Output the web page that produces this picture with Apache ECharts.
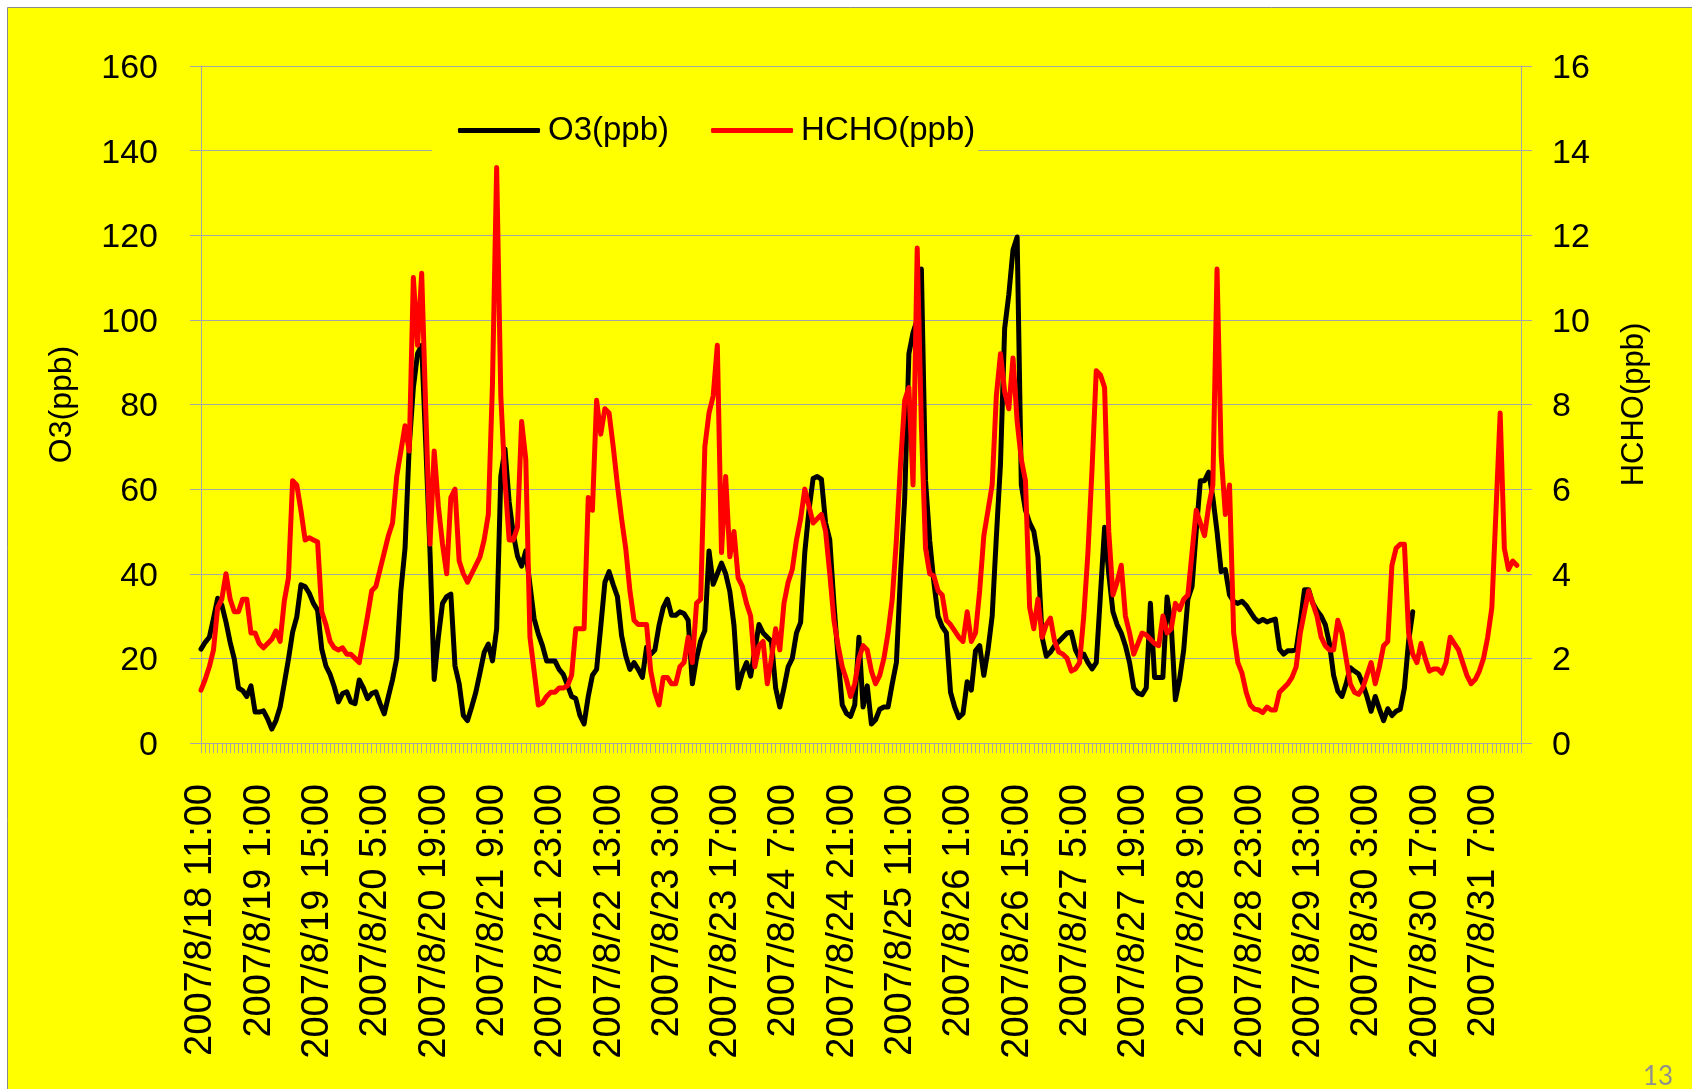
<!DOCTYPE html>
<html>
<head>
<meta charset="utf-8">
<script src="https://cdn.jsdelivr.net/npm/echarts@6/dist/echarts.min.js"></script>
<style>
  html, body { margin: 0; padding: 0; background: #ffffff; }
  #chart { width: 1692px; height: 1089px; }
</style>
</head>
<body>
<div id="chart"></div>
<script>
// Hourly series, starting 2007/8/18 11:00
const startHour = { y: 2007, m: 8, d: 18, h: 11 };
const hourCount = 318;

// O3 (ppb), left axis
const o3 = [
  22.2, 23.8, 25, 29.4, 34.2, 32.6, 28.6, 23.8, 19.8, 13,
  12.4, 11, 13.5, 7.3, 7.3, 7.6, 5.7, 3.3, 5.3, 8.5,
  14.1, 19.8, 26.2, 29.8, 37.4, 37, 35.4, 33, 31.4, 22.2,
  18.2, 16.2, 13.3, 9.7, 11.7, 12.1, 9.7, 9.3, 14.9, 13,
  10.5, 11.7, 12.1, 9.3, 6.9, 11, 15, 20, 36, 46,
  70, 84, 92, 94, 70, 45, 15, 25, 33, 34.6,
  35.2, 18.2, 14, 6.5, 5.3, 8.5, 12, 16.6, 21.4, 23.4,
  19.4, 27, 63, 69.5, 57, 49.4, 44.2, 41.8, 45.4, 37.4,
  29.4, 25.8, 23, 19.4, 19.4, 19.4, 17.4, 16.2, 13.7, 11,
  10.5, 6.5, 4.5, 11, 16, 17.4, 27.5, 38, 40.5, 37.4,
  34.6, 25.4, 20.6, 17.4, 19, 17.4, 15.5, 22.6, 21, 22,
  27.8, 32, 34, 30.2, 30.2, 31, 30.6, 29, 14, 20,
  24.2, 26.6, 45.4, 37.5, 40, 42.5, 40, 35.8, 27.8, 13,
  16.6, 19, 15.8, 22, 28, 26, 25, 24, 13, 8.5,
  13, 18, 20, 26, 28.5, 45, 55, 62.5, 63, 62.3,
  52, 48, 33, 20, 9, 7, 6.3, 9, 25, 8.5,
  13.5, 4.5, 5.5, 8, 8.5, 8.5, 14, 19, 40, 58,
  92, 97, 100, 112, 62, 47.8, 38, 30, 27.5, 26,
  12, 8.5, 6, 7, 14.5, 12.5, 21.8, 23, 16, 22,
  30, 48.6, 66, 98, 106, 116.5, 119.6, 61, 55, 52,
  50, 44, 25, 20.5, 21.5, 23, 24, 25, 26, 26.2,
  22, 20, 21, 19, 17.5, 19, 35, 51, 40, 31,
  28, 26, 23, 19, 13, 11.8, 11.4, 13, 33, 15.5,
  15.5, 15.5, 34.5, 28, 10.2, 15, 22, 34, 37, 50,
  62, 62, 64, 58, 50, 40.5, 41, 35, 33.4, 33,
  33.5, 32.5, 31, 29.5, 28.6, 29.2, 28.6, 29, 29.3, 22.2,
  21, 21.8, 21.8, 22, 28.6, 36.2, 36.2, 33, 31.3, 30,
  28, 23.5, 16, 12.3, 11, 14, 17.8, 17, 16.3, 14,
  11, 7.5, 11, 8, 5.3, 8.1, 6.5, 7.5, 8, 13,
  24, 31, null, null, null, null, null, null, null, null,
  null, null, null, null, null, null, null, null, null, null,
  null, null, null, null, null, null, null, null
];

// HCHO (ppb), right axis
const hcho = [
  1.25, 1.5, 1.8, 2.2, 3.2, 3.4, 4.0, 3.4, 3.1, 3.1,
  3.4, 3.4, 2.6, 2.6, 2.35, 2.25, 2.35, 2.45, 2.65, 2.4,
  3.35, 3.9, 6.2, 6.1, 5.5, 4.8, 4.85, 4.8, 4.75, 3.1,
  2.8, 2.4, 2.25, 2.2, 2.25, 2.1, 2.1, 2.0, 1.9, 2.45,
  3.0, 3.6, 3.7, 4.1, 4.5, 4.9, 5.2, 6.3, 6.9, 7.5,
  6.9, 11.0, 9.4, 11.1, 7.8, 4.7, 6.9, 5.6, 4.7, 4.0,
  5.8, 6.0, 4.3, 4.0, 3.8, 4.0, 4.2, 4.4, 4.8, 5.4,
  8.5, 13.6, 8.2, 6.2, 4.8, 4.8, 5.1, 7.6, 6.7, 2.5,
  1.7, 0.9, 0.95, 1.1, 1.2, 1.2, 1.3, 1.3, 1.35, 1.6,
  2.7, 2.7, 2.7, 5.8, 5.5, 8.1, 7.3, 7.9, 7.8, 7.0,
  6.1, 5.3, 4.6, 3.6, 2.9, 2.8, 2.8, 2.8, 1.7, 1.2,
  0.9, 1.55, 1.55, 1.4, 1.4, 1.8, 1.9, 2.5, 1.9, 3.3,
  3.4, 7.0, 7.8, 8.2, 9.4, 4.5, 6.3, 4.4, 5.0, 3.9,
  3.7, 3.3, 3.0, 1.8, 2.3, 2.4, 1.4, 2.0, 2.7, 2.2,
  3.3, 3.8, 4.1, 4.8, 5.3, 6.0, 5.6, 5.2, 5.3, 5.4,
  5.0, 4.0, 2.9, 2.3, 1.8, 1.5, 1.1, 1.4, 2.0, 2.3,
  2.2, 1.7, 1.4, 1.6, 2.0, 2.6, 3.4, 4.8, 6.6, 8.1,
  8.4, 6.1, 11.7, 7.5, 4.6, 4.0, 3.95, 3.6, 3.5, 2.9,
  2.8, 2.65, 2.5, 2.4, 3.1, 2.4, 2.6, 3.6, 4.9, 5.5,
  6.1, 8.2, 9.2, 8.3, 7.9, 9.1, 7.6, 6.7, 6.2, 3.2,
  2.7, 3.4, 2.5, 2.8, 2.95, 2.4, 2.15, 2.1, 2.0, 1.7,
  1.75, 1.9, 3.0, 4.5, 6.5, 8.8, 8.7, 8.4, 5.0, 3.5,
  3.8, 4.2, 3.0, 2.6, 2.1, 2.35, 2.6, 2.55, 2.45, 2.35,
  2.3, 3.0, 2.6, 2.7, 3.3, 3.15, 3.4, 3.5, 4.5, 5.5,
  5.2, 4.9, 5.6, 6.1, 11.2, 6.8, 5.4, 6.1, 2.6, 1.9,
  1.65, 1.2, 0.9, 0.8, 0.78, 0.72, 0.85, 0.78, 0.78, 1.2,
  1.3, 1.4, 1.55, 1.8, 2.6, 3.1, 3.6, 3.3, 3.0, 2.5,
  2.3, 2.2, 2.2, 2.9, 2.6, 2.0, 1.4, 1.2, 1.15, 1.3,
  1.6, 1.9, 1.4, 1.8, 2.3, 2.4, 4.2, 4.6, 4.7, 4.7,
  2.6, 2.1, 1.9, 2.35, 2.0, 1.7, 1.75, 1.75, 1.65, 1.9,
  2.5, 2.35, 2.2, 1.9, 1.6, 1.4, 1.5, 1.7, 2.0, 2.5,
  3.2, 5.5, 7.8, 4.6, 4.1, 4.3, 4.2, null
];

const seriesNames = ['O3(ppb)', 'HCHO(ppb)'];
const seriesColors = ['#000000', '#ff0000'];
const o3Ticks = { min: 0, max: 160, step: 20 };
const hchoTicks = { min: 0, max: 16, step: 2 };
const labelEvery = 14; // one date label per 14 hours

// "2007/8/18 11:00" style labels for each hour
function hourLabels(start, n) {
  const out = [];
  const t0 = Date.UTC(start.y, start.m - 1, start.d, start.h);
  for (let i = 0; i < n; i++) {
    const t = new Date(t0 + i * 3600000);
    out.push(t.getUTCFullYear() + '/' + (t.getUTCMonth() + 1) + '/' + t.getUTCDate() + ' ' + t.getUTCHours() + ':00');
  }
  return out;
}
const categories = hourLabels(startHour, hourCount);

const FONT = '"Liberation Sans", Arial, sans-serif';
const GRID_GRAY = '#a6a6a6';
const LINE_W = 5;

// value labels sit a touch below their gridline
const tickLabel = (margin) => ({
  margin: margin,
  formatter: '{v|{value}}',
  rich: { v: { fontSize: 34, color: '#000', fontFamily: FONT, padding: [5, 0, 0, 0] } }
});

const chart = echarts.init(document.getElementById('chart'), null, { renderer: 'canvas' });
chart.setOption({
  animation: false,
  backgroundColor: '#ffffff',
  textStyle: { fontFamily: FONT },
  graphic: [
    {
      type: 'rect', z: -100, silent: true,
      shape: { x: 7.5, y: 7.5, width: 1710, height: 1110 },
      style: { fill: '#ffff00', stroke: '#8c8c8c', lineWidth: 1 }
    },
    {
      type: 'text', left: 1643, top: 1064, silent: true,
      style: { text: '13', fill: '#8f8f8f', font: '26px Lato, "Open Sans", sans-serif' }
    }
  ],
  grid: { left: 201, right: 171, top: 66, bottom: 346, containLabel: false },
  legend: {
    data: seriesNames.map((n, i) => ({ name: n, itemStyle: { color: seriesColors[i] } })),
    icon: 'roundRect',
    left: 432,
    top: 102,
    padding: [12, 3, 12, 26],
    itemGap: 42,
    itemWidth: 82,
    itemHeight: 5,
    backgroundColor: '#ffff00',
    textStyle: { fontSize: 33, color: '#000', fontFamily: FONT, padding: [0, 0, 0, 3] }
  },
  xAxis: {
    type: 'category',
    boundaryGap: false,
    data: categories,
    axisLine: { show: true, lineStyle: { color: GRID_GRAY, width: 1 } },
    axisTick: { show: true, interval: 0, length: 10, lineStyle: { color: GRID_GRAY, width: 1 } },
    axisLabel: {
      interval: labelEvery - 1,
      rotate: 90,
      margin: 41,
      fontSize: 38,
      color: '#000',
      fontFamily: FONT
    },
    splitLine: { show: false }
  },
  yAxis: [
    {
      type: 'value',
      position: 'left',
      min: o3Ticks.min, max: o3Ticks.max, interval: o3Ticks.step,
      name: 'O3(ppb)',
      nameLocation: 'middle',
      nameRotate: 90,
      nameGap: 123,
      nameTextStyle: { fontSize: 32, color: '#000', fontFamily: FONT },
      axisLine: { show: true, lineStyle: { color: GRID_GRAY, width: 1 } },
      axisTick: { show: true, length: 11, lineStyle: { color: GRID_GRAY, width: 1 } },
      axisLabel: tickLabel(43),
      splitLine: { show: true, lineStyle: { color: GRID_GRAY, width: 1 } }
    },
    {
      type: 'value',
      position: 'right',
      min: hchoTicks.min, max: hchoTicks.max, interval: hchoTicks.step,
      name: 'HCHO(ppb)',
      nameLocation: 'middle',
      nameRotate: 90,
      nameGap: 98,
      nameTextStyle: { fontSize: 31, color: '#000', fontFamily: FONT },
      axisLine: { show: true, lineStyle: { color: GRID_GRAY, width: 1 } },
      axisTick: { show: true, length: 11, lineStyle: { color: GRID_GRAY, width: 1 } },
      axisLabel: tickLabel(31),
      splitLine: { show: false }
    }
  ],
  series: [
    {
      name: seriesNames[0],
      type: 'line',
      yAxisIndex: 0,
      data: o3,
      symbol: 'none',
      showSymbol: false,
      lineStyle: { color: seriesColors[0], width: LINE_W, join: 'round', cap: 'round' },
      itemStyle: { color: seriesColors[0] }
    },
    {
      name: seriesNames[1],
      type: 'line',
      yAxisIndex: 1,
      data: hcho,
      symbol: 'none',
      showSymbol: false,
      lineStyle: { color: seriesColors[1], width: LINE_W, join: 'round', cap: 'round' },
      itemStyle: { color: seriesColors[1] }
    }
  ]
});
</script>
</body>
</html>
